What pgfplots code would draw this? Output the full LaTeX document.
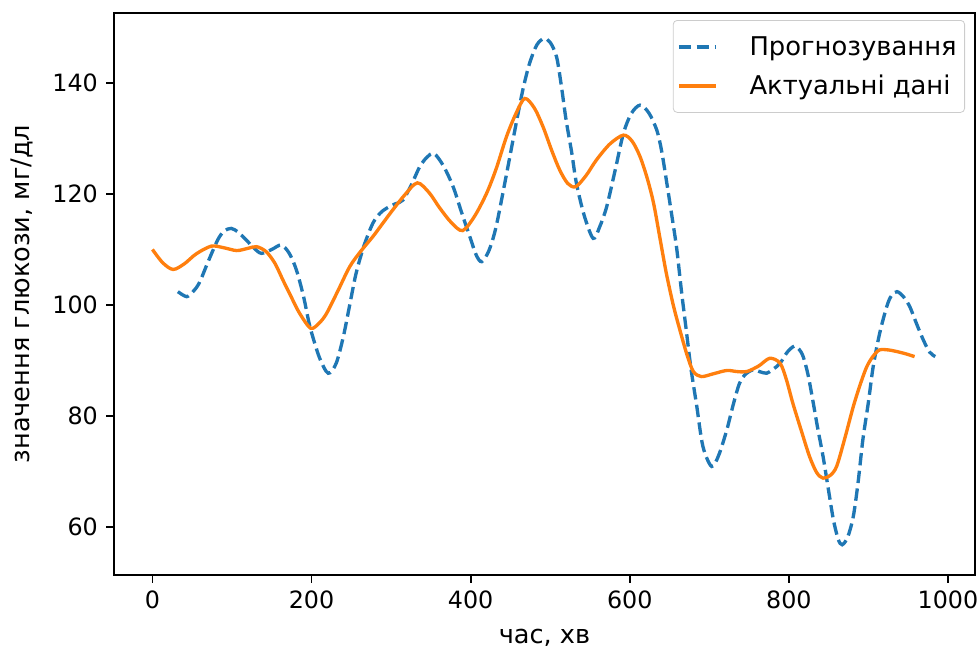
\documentclass[border=0pt]{standalone}
\usepackage{fontspec}
\setmainfont{DejaVu Sans}
\usepackage{pgfplots}
\pgfplotsset{compat=1.18}

\definecolor{tabblue}{HTML}{1F77B4}
\definecolor{taborange}{HTML}{FF7F0E}

\begin{document}
\begin{tikzpicture}
\begin{axis}[
  scale only axis, width=430.5pt, height=281pt,
  xmin=-48.3, xmax=1034, ymin=51.35, ymax=152.6,
  xtick={0,200,...,1000}, ytick={60,80,...,140},
  tick pos=left, tick align=outside, major tick length=3.9pt,
  axis line style={line width=0.9pt}, every tick/.style={line width=0.9pt, black},
  /pgf/number format/assume math mode=true,
  /pgf/number format/1000 sep={},
  tick label style={font=\fontsize{11.9}{14}\selectfont, inner sep=0pt},
  xticklabel style={yshift=-4pt},
  yticklabel style={xshift=-4pt},
  xlabel={час, хв}, ylabel={значення глюкози, мг/дл},
  every axis x label/.style={at={(axis description cs:0.5,-0.112)}, anchor=center,
    font=\fontsize{12.8}{15}\selectfont},
  every axis y label/.style={at={(axis description cs:-0.107,0.5)}, anchor=center, rotate=90,
    font=\fontsize{12.8}{15}\selectfont},
  legend style={at={(1,1)}, anchor=north east, xshift=-5pt, yshift=-3.5pt,
    font=\fontsize{12.9}{15}\selectfont, draw=black!20, rounded corners=2pt,
    fill=white, fill opacity=0.8, text opacity=1, inner xsep=2pt, inner ysep=5pt,
    row sep=3pt, nodes={text height=11pt, text depth=2.5pt, inner ysep=1.5pt},
    /tikz/every odd column/.append style={column sep=14pt}},
  legend cell align=left,
  legend image code/.code={\draw[#1] (-1.5pt,0pt) -- (17pt,0pt);},
]
\addplot[tabblue, line width=1.67pt, dash pattern=on 6.2pt off 2.7pt, smooth] coordinates {
(32,102.4) (43,101.5) (51,102.4) (59,104.0) (70,107.8) (82,111.7) (90,113.3) (99,113.8)
(108,113.1) (118,111.7) (128,110.2) (137,109.3) (150,110.0) (162,110.8) (172,109.3)
(181,106.3) (190,101.5) (198,96.1) (210,90.5) (221,87.7) (231,89.5) (240,94.3) (248,100.0)
(256,105.7) (266,110.7) (277,114.7) (286,116.5) (294,117.4) (305,118.2) (315,118.9)
(326,121.8) (336,124.9) (345,126.6) (354,127.3) (366,125.0) (378,121.3) (389,116.5)
(399,112.3) (407,109.0) (414,107.8) (423,109.8) (432,114.1) (445,123.5) (458,133.3)
(466,139.0) (474,143.5) (483,146.8) (492,148.0) (500,147.3) (508,144.7) (514,139.5)
(520,133.3) (527,127.5) (533,121.9) (543,116.0) (554,112.0) (562,114.0) (571,117.7)
(582,124.5) (592,130.9) (602,134.5) (613,136.0) (624,134.6) (634,131.5) (640,127.8)
(646,122.5) (653,116.0) (659,110.2) (665,102.5) (671,95.5) (677,88.5) (684,82.0)
(692,74.5) (703,70.9) (712,73.0) (722,77.5) (730,82.0) (738,85.9) (746,87.6) (755,88.3)
(763,88.0) (772,87.7) (780,88.4) (789,89.5) (798,91.5) (807,92.6) (813,92.0) (818,90.7)
(824,87.5) (830,82.9) (836,78.0) (843,72.7) (850,66.5) (856,61.3) (862,57.8) (867,56.8)
(874,58.2) (881,61.9) (887,68.0) (893,75.7) (900,82.5) (906,88.9) (914,94.8) (923,99.7)
(929,101.7) (936,102.4) (944,101.5) (952,99.7) (960,96.8) (969,93.7) (977,91.5) (984,90.7)
};
\addlegendentry{Прогнозування}
\addplot[taborange, line width=1.67pt, smooth] coordinates {
(0,110.0) (13,107.6) (26,106.4) (40,107.4) (55,109.2) (74,110.6) (90,110.3) (106,109.8)
(120,110.2) (131,110.5) (143,109.6) (154,107.5) (164,104.5) (175,101.3) (185,98.5)
(199,95.8) (210,96.8) (219,98.5) (233,102.5) (248,106.9) (262,109.7) (277,112.3)
(290,114.8) (302,117.1) (317,119.8) (333,122.0) (348,120.2) (361,117.5) (376,114.8)
(390,113.4) (405,116.0) (420,120.1) (432,124.5) (445,130.3) (457,134.5) (468,137.2)
(480,135.5) (491,132.1) (502,127.8) (512,124.3) (522,121.9) (532,121.3) (545,123.3)
(558,126.1) (575,129.0) (592,130.6) (603,129.5) (613,126.7) (622,122.8) (630,118.3)
(638,112.0) (646,105.7) (655,99.8) (663,95.5) (672,91.0) (680,88.0) (690,87.1)
(705,87.6) (722,88.2) (735,88.0) (747,88.0) (762,89.0) (776,90.4) (789,89.5) (797,86.5)
(805,82.3) (816,77.2) (826,72.7) (835,69.8) (843,68.8) (852,69.3) (860,70.9) (870,75.8)
(881,81.7) (890,85.8) (898,88.9) (906,90.8) (914,91.9) (925,91.9) (936,91.6) (947,91.2)
(958,90.7)
};
\addlegendentry{Актуальні дані}
\end{axis}
\pgfresetboundingbox
\path (-57pt,-37.5pt) rectangle (431.5pt,287.5pt);
\end{tikzpicture}
\end{document}
